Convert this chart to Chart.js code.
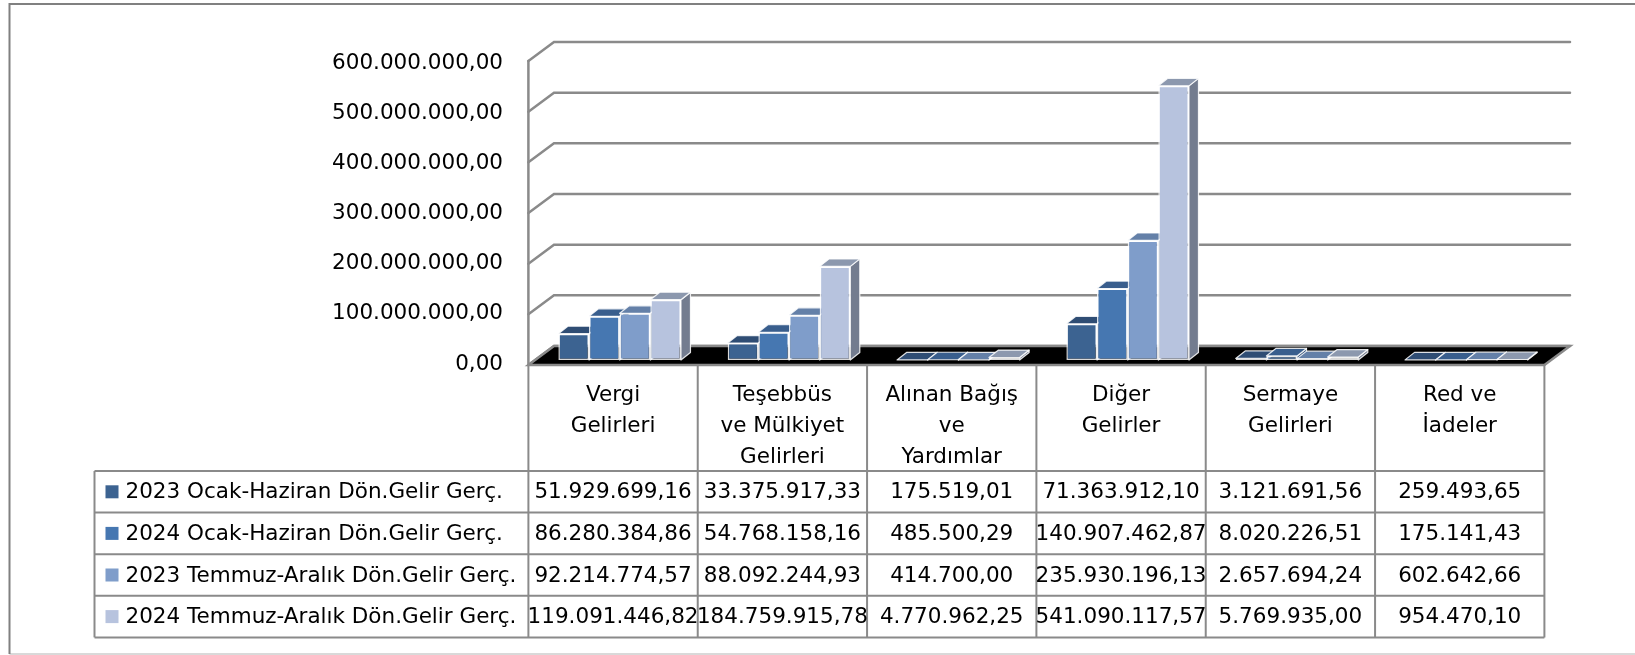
<!DOCTYPE html>
<html>
<head>
<meta charset="utf-8">
<title>Gelir Gerçekleşmeleri</title>
<style>
  html, body { margin: 0; padding: 0; background: #fff; }
  #chart { display: block; }
</style>
</head>
<body>
<canvas id="chart" width="1635" height="655"></canvas>
<script src="https://cdn.jsdelivr.net/npm/chart.js"></script>
<script>
  // kategoriler (çok satırlı eksen etiketleri)
  const categories = [
    ['Vergi', 'Gelirleri'],
    ['Teşebbüs', 've Mülkiyet', 'Gelirleri'],
    ['Alınan Bağış', 've', 'Yardımlar'],
    ['Diğer', 'Gelirler'],
    ['Sermaye', 'Gelirleri'],
    ['Red ve', 'İadeler']
  ];
  const seriesNames = [
    '2023 Ocak-Haziran Dön.Gelir Gerç.',
    '2024 Ocak-Haziran Dön.Gelir Gerç.',
    '2023 Temmuz-Aralık Dön.Gelir Gerç.',
    '2024 Temmuz-Aralık Dön.Gelir Gerç.'
  ];
  const ocakHaziran2023 = [51929699.16, 33375917.33, 175519.01, 71363912.10, 3121691.56, 259493.65];
  const ocakHaziran2024 = [86280384.86, 54768158.16, 485500.29, 140907462.87, 8020226.51, 175141.43];
  const temmuzAralik2023 = [92214774.57, 88092244.93, 414700.00, 235930196.13, 2657694.24, 602642.66];
  const temmuzAralik2024 = [119091446.82, 184759915.78, 4770962.25, 541090117.57, 5769935.00, 954470.10];
  const yTicks = [0, 100000000, 200000000, 300000000, 400000000, 500000000, 600000000];

  const seriesValues = [ocakHaziran2023, ocakHaziran2024, temmuzAralik2023, temmuzAralik2024];

  // görünüm
  const FONT = 'DejaVu Sans';
  const frontColors = ['#3C6391', '#4677B1', '#7F9DCA', '#B7C3DE'];
  const topColors = ['#2F4D74', '#395E8D', '#6480A8', '#8C98AE'];
  const sideColors = ['#2A4467', '#33527B', '#596F8F', '#737C8F'];
  const lineGray = '#8A8A8A';
  const DEPTH = { dx: 25.6, dy: 19 };    // ön düzlem -> arka duvar
  const BAR_PLANE = { dx: 6.6, dy: 5 };  // sütun ön yüzünün ön düzleme uzaklığı
  const BAR_DEPTH = { dx: 9.5, dy: 7.5 };
  const ROW_H = 41.6;
  const LEGEND_LEFT = 94.5;

  // 600000000 -> "600.000.000,00"
  function formatTR(v) {
    const parts = Math.abs(v).toFixed(2).split('.');
    return (v < 0 ? '-' : '') + parts[0].replace(/\B(?=(\d{3})+(?!\d))/g, '.') + ',' + parts[1];
  }

  function poly(ctx, pts, fill, stroke, lw) {
    ctx.beginPath();
    ctx.moveTo(pts[0][0], pts[0][1]);
    for (let i = 1; i < pts.length; i++) ctx.lineTo(pts[i][0], pts[i][1]);
    ctx.closePath();
    if (fill) { ctx.fillStyle = fill; ctx.fill(); }
    if (stroke) { ctx.strokeStyle = stroke; ctx.lineWidth = lw; ctx.stroke(); }
  }

  const scene3d = {
    id: 'scene3d',
    beforeDraw(chart) {
      const ctx = chart.ctx;
      ctx.save();
      ctx.fillStyle = '#fff';
      ctx.fillRect(0, 0, chart.width, chart.height);
      // dış çerçeve
      ctx.lineWidth = 2;
      ctx.strokeStyle = '#D9D9D9';
      ctx.beginPath(); ctx.moveTo(9.5, 654); ctx.lineTo(chart.width, 654); ctx.stroke();
      ctx.strokeStyle = '#808080';
      ctx.beginPath(); ctx.moveTo(9.5, 654); ctx.lineTo(9.5, 4); ctx.lineTo(chart.width, 4); ctx.stroke();
      ctx.restore();
    },
    beforeDatasetsDraw(chart) {
      const ctx = chart.ctx;
      const ys = chart.scales.y;
      const area = chart.chartArea;
      const fx0 = area.left - BAR_PLANE.dx;
      const fx1 = area.right - BAR_PLANE.dx;
      const front = v => ys.getPixelForValue(v) + BAR_PLANE.dy;
      ctx.save();
      ctx.lineCap = 'round';

      // arka duvar ve yan duvar ızgara çizgileri
      ctx.strokeStyle = lineGray;
      ctx.lineWidth = 2.5;
      yTicks.forEach(v => {
        const fy = front(v);
        ctx.beginPath();
        ctx.moveTo(fx0, fy);
        ctx.lineTo(fx0 + DEPTH.dx, fy - DEPTH.dy);
        ctx.lineTo(fx1 + DEPTH.dx, fy - DEPTH.dy);
        ctx.stroke();
      });
      // ön dikey eksen
      ctx.beginPath();
      ctx.moveTo(fx0, front(yTicks[yTicks.length - 1]));
      ctx.lineTo(fx0, front(0));
      ctx.stroke();

      // zemin
      const fy0 = front(0);
      poly(ctx, [[fx0, fy0], [fx1, fy0], [fx1 + DEPTH.dx, fy0 - DEPTH.dy], [fx0 + DEPTH.dx, fy0 - DEPTH.dy]],
        '#000', lineGray, 2.5);

      // sütunların üst ve yan yüzleri (soldan sağa)
      ctx.lineJoin = 'round';
      categories.forEach((_, i) => {
        seriesValues.forEach((_, d) => {
          const bar = chart.getDatasetMeta(d).data[i];
          const p = bar.getProps(['x', 'y', 'base', 'width'], true);
          const l = p.x - p.width / 2, r = p.x + p.width / 2;
          const t = Math.min(p.y, p.base), b = Math.max(p.y, p.base);
          const dx = BAR_DEPTH.dx, dy = BAR_DEPTH.dy;
          poly(ctx, [[r, t], [r + dx, t - dy], [r + dx, b - dy], [r, b]], sideColors[d], 'rgba(255,255,255,0.85)', 1.2);
          poly(ctx, [[l, t], [r, t], [r + dx, t - dy], [l + dx, t - dy]], topColors[d], 'rgba(255,255,255,0.85)', 1.2);
        });
      });
      ctx.restore();
    },
    afterDraw(chart) {
      const ctx = chart.ctx;
      const xs = chart.scales.x;
      const ys = chart.scales.y;
      const catW = xs.getPixelForValue(1) - xs.getPixelForValue(0);
      const edges = categories.map((_, i) => xs.getPixelForValue(i) - catW / 2 - BAR_PLANE.dx);
      edges.push(edges[edges.length - 1] + catW);
      const topY = ys.getPixelForValue(0) + BAR_PLANE.dy;
      const rowTop = xs.bottom;
      const rowBottom = rowTop + seriesNames.length * ROW_H;

      ctx.save();
      ctx.strokeStyle = lineGray;
      ctx.lineWidth = 2;
      edges.forEach(x => {
        ctx.beginPath(); ctx.moveTo(x, topY); ctx.lineTo(x, rowBottom); ctx.stroke();
      });
      ctx.beginPath(); ctx.moveTo(LEGEND_LEFT, rowTop); ctx.lineTo(LEGEND_LEFT, rowBottom); ctx.stroke();
      for (let r = 0; r <= seriesNames.length; r++) {
        const y = rowTop + r * ROW_H;
        ctx.beginPath(); ctx.moveTo(LEGEND_LEFT, y); ctx.lineTo(edges[edges.length - 1], y); ctx.stroke();
      }

      ctx.font = '21.5px "' + FONT + '"';
      ctx.fillStyle = '#000';
      ctx.textBaseline = 'middle';
      seriesNames.forEach((name, d) => {
        const cy = rowTop + d * ROW_H + ROW_H / 2;
        ctx.fillStyle = frontColors[d];
        ctx.fillRect(LEGEND_LEFT + 11, cy - 6.5, 13, 13);
        ctx.fillStyle = '#000';
        ctx.textAlign = 'left';
        ctx.fillText(name, LEGEND_LEFT + 31, cy + 1);
        ctx.textAlign = 'center';
        seriesValues[d].forEach((v, i) => {
          ctx.fillText(formatTR(v), (edges[i] + edges[i + 1]) / 2, cy + 1);
        });
      });
      ctx.restore();
    }
  };

  new Chart(document.getElementById('chart'), {
    type: 'bar',
    data: {
      labels: categories,
      datasets: seriesValues.map((vals, d) => ({
        label: seriesNames[d],
        data: vals,
        backgroundColor: frontColors[d],
        borderColor: 'rgba(255,255,255,0.85)',
        borderWidth: 1.5,
        borderSkipped: false,
        categoryPercentage: 0.724,
        barPercentage: 1,
        yAxisID: 'y'
      }))
    },
    options: {
      responsive: false,
      animation: false,
      devicePixelRatio: 1,
      layout: { padding: { left: 0, top: 56, right: 84, bottom: 184 } },
      plugins: { legend: { display: false }, tooltip: { enabled: false } },
      scales: {
        x: {
          grid: { display: false, drawTicks: false },
          border: { display: false },
          ticks: {
            color: '#000',
            font: { family: FONT, size: 21.5, lineHeight: 30.8 / 21.5 },
            padding: 20,
            labelOffset: -BAR_PLANE.dx,
            maxRotation: 0,
            autoSkip: false
          },
          afterFit(s) { s.height = 111; }
        },
        y: { display: false, min: 0, max: 600000000 },
        // etiket ekseni: Excel'deki etiket aralığına göre biraz farklı ölçek
        yl: {
          position: 'left',
          min: 0,
          max: 607000000,
          grid: { display: false, drawTicks: false },
          border: { display: false },
          afterBuildTicks(s) { s.ticks = yTicks.map(v => ({ value: v })); },
          ticks: {
            color: '#000',
            font: { family: FONT, size: 21.5 },
            padding: 32,
            labelOffset: 4,
            callback: v => formatTR(v)
          },
          afterFit(s) { s.width = 535; }
        }
      }
    },
    plugins: [scene3d]
  });
</script>
</body>
</html>
